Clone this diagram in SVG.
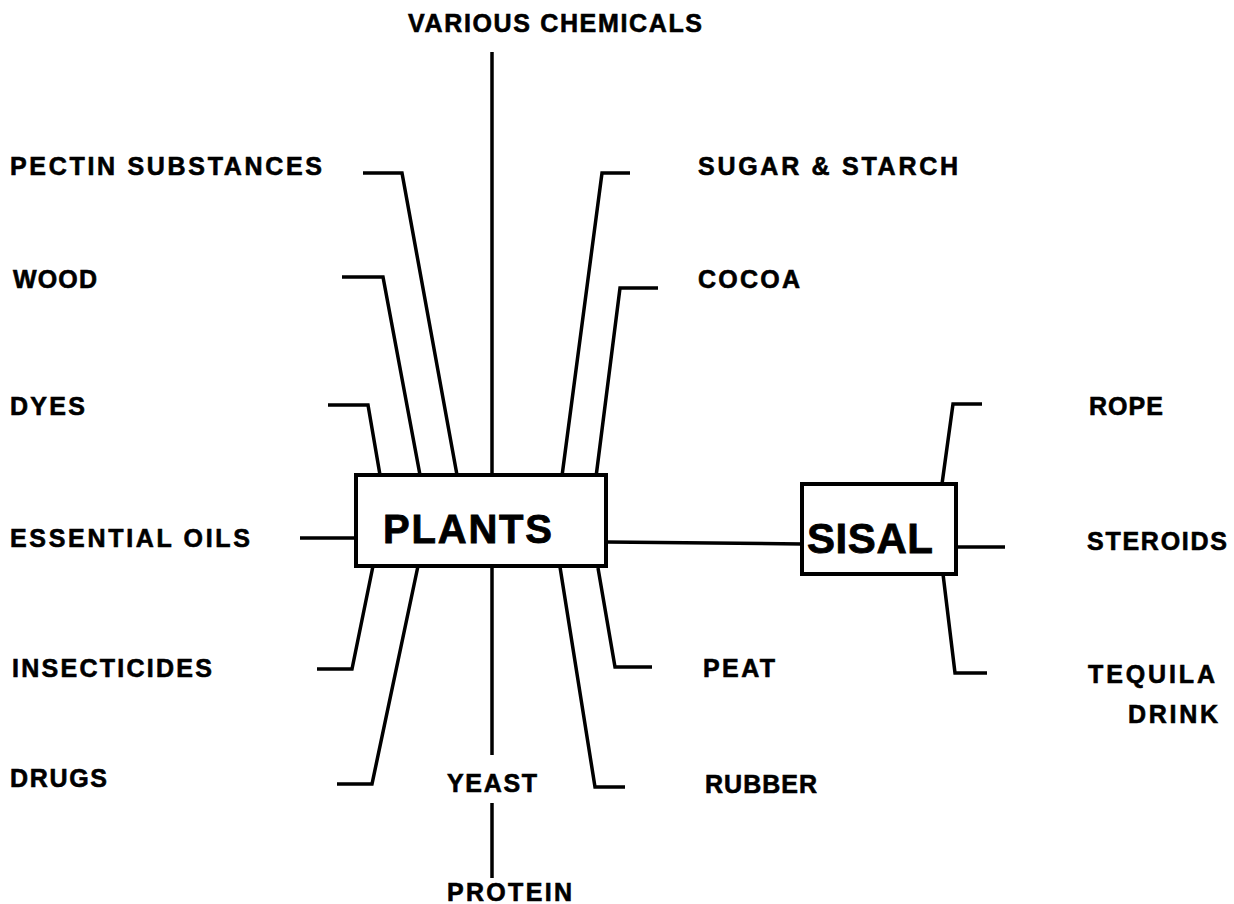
<svg xmlns="http://www.w3.org/2000/svg" width="1234" height="904" viewBox="0 0 1234 904">
<style>
  .bg { fill: #ffffff; }
  .ln { fill: none; stroke: #000; stroke-width: 3.5; stroke-linejoin: miter; stroke-linecap: butt; }
  .box { fill: #fff; stroke: #000; stroke-width: 4; }
  .lbl { font-family: "Liberation Sans", Arial, sans-serif; font-weight: bold; font-size: 25px; fill: #000; stroke: #000; stroke-width: 0.6; }
  .big { font-family: "Liberation Sans", Arial, sans-serif; font-weight: bold; fill: #000; stroke: #000; stroke-width: 0.8; }
</style>
<rect class="bg" x="0" y="0" width="1234" height="904"/>
<g id="connectors">
  <polyline class="ln" points="363,173 402,173 457,475"/>
  <polyline class="ln" points="342,277 383,277 420,475"/>
  <polyline class="ln" points="328,405 368,405 380,475"/>
  <polyline class="ln" points="492,52 492,475"/>
  <polyline class="ln" points="630,173 602,173 562,476"/>
  <polyline class="ln" points="658,288 620,288 596,477"/>
  <polyline class="ln" points="300,538 356,538"/>
  <polyline class="ln" points="373,566 352,669 317,669"/>
  <polyline class="ln" points="418,566 372,784 337,784"/>
  <polyline class="ln" points="492,567 492,755"/>
  <polyline class="ln" points="560,567 595,787 625,787"/>
  <polyline class="ln" points="598,568 615,667 652,667"/>
  <polyline class="ln" points="606,542 802,544"/>
  <polyline class="ln" points="492,803 492,878"/>
  <polyline class="ln" points="982,404 953,404 942,484"/>
  <polyline class="ln" points="956,547 1005,547"/>
  <polyline class="ln" points="943,574 955,673 987,673"/>
</g>
<g id="plants">
  <rect class="box" x="356" y="475" width="250" height="91"/>
  <text class="big" x="383" y="543" font-size="40" textLength="169" lengthAdjust="spacing">PLANTS</text>
</g>
<g id="sisal">
  <rect class="box" x="802" y="484" width="154" height="90"/>
  <text class="big" x="807" y="553" font-size="42" textLength="126" lengthAdjust="spacing">SISAL</text>
</g>
<g id="various-chemicals"><text class="lbl" x="408" y="32" font-size="26" textLength="294" lengthAdjust="spacing">VARIOUS CHEMICALS</text></g>
<g id="pectin"><text class="lbl" x="10" y="175" textLength="312" lengthAdjust="spacing">PECTIN SUBSTANCES</text></g>
<g id="wood"><text class="lbl" x="13" y="288" textLength="84" lengthAdjust="spacing">WOOD</text></g>
<g id="dyes"><text class="lbl" x="10" y="415" textLength="75" lengthAdjust="spacing">DYES</text></g>
<g id="essential-oils"><text class="lbl" x="10" y="547" textLength="240" lengthAdjust="spacing">ESSENTIAL OILS</text></g>
<g id="insecticides"><text class="lbl" x="12" y="677" textLength="200" lengthAdjust="spacing">INSECTICIDES</text></g>
<g id="drugs"><text class="lbl" x="10" y="787" textLength="97" lengthAdjust="spacing">DRUGS</text></g>
<g id="sugar-starch"><text class="lbl" x="698" y="175" textLength="260" lengthAdjust="spacing">SUGAR &amp; STARCH</text></g>
<g id="cocoa"><text class="lbl" x="698" y="288" textLength="102" lengthAdjust="spacing">COCOA</text></g>
<g id="rope"><text class="lbl" x="1089" y="415" textLength="74" lengthAdjust="spacing">ROPE</text></g>
<g id="steroids"><text class="lbl" x="1087" y="550" textLength="140" lengthAdjust="spacing">STEROIDS</text></g>
<g id="tequila-drink">
  <text class="lbl" x="1088" y="683" textLength="127" lengthAdjust="spacing">TEQUILA</text>
  <text class="lbl" x="1128" y="723" textLength="90" lengthAdjust="spacing">DRINK</text>
</g>
<g id="peat"><text class="lbl" x="703" y="677" textLength="72" lengthAdjust="spacing">PEAT</text></g>
<g id="yeast"><text class="lbl" x="447" y="792" textLength="90" lengthAdjust="spacing">YEAST</text></g>
<g id="rubber"><text class="lbl" x="705" y="793" textLength="112" lengthAdjust="spacing">RUBBER</text></g>
<g id="protein"><text class="lbl" x="447" y="901" textLength="125" lengthAdjust="spacing">PROTEIN</text></g>
</svg>
